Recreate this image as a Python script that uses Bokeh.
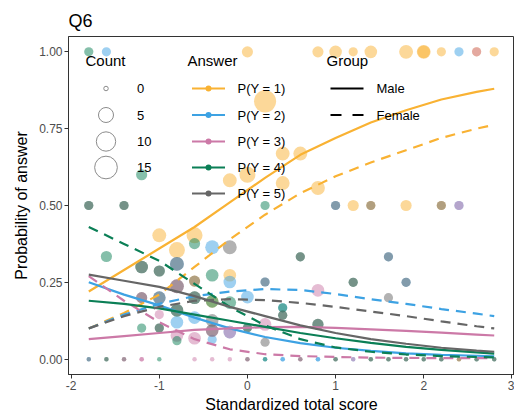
import numpy as np
from bokeh.plotting import figure
from bokeh.models import Range1d, FixedTicker, NumeralTickFormatter
from bokeh.embed import file_html
from bokeh.resources import INLINE
from bokeh.core.properties import value

FONT = "Liberation Sans"

# ---------------- data ----------------
answers = ["P(Y = 1)", "P(Y = 2)", "P(Y = 3)", "P(Y = 4)", "P(Y = 5)"]
colors = ["#F9B233", "#3DA2E3", "#CC79A7", "#0B7F56", "#666666"]
groups = ["Male", "Female"]
count_levels = [0, 5, 10, 15]
x_ticks = [-2, -1, 0, 1, 2, 3]
y_ticks = [0, 0.25, 0.5, 0.75, 1.0]

curve_x = [-1.8, -1.4, -1.0, -0.6, -0.2, 0.2, 0.6, 1.0, 1.4, 1.8, 2.2, 2.6, 2.8]
male_1 = [0.22, 0.29, 0.36, 0.43, 0.51, 0.59, 0.665, 0.72, 0.77, 0.81, 0.845, 0.87, 0.88]
female_1 = [0.10, 0.15, 0.21, 0.30, 0.39, 0.47, 0.54, 0.595, 0.64, 0.68, 0.72, 0.75, 0.763]
male_2 = [0.25, 0.21, 0.175, 0.135, 0.10, 0.072, 0.052, 0.037, 0.027, 0.019, 0.014, 0.011, 0.009]
female_2 = [0.10, 0.145, 0.18, 0.205, 0.22, 0.228, 0.225, 0.212, 0.195, 0.18, 0.163, 0.148, 0.14]
male_3 = [0.065, 0.075, 0.085, 0.095, 0.10, 0.104, 0.105, 0.102, 0.097, 0.092, 0.086, 0.08, 0.077]
female_3 = [0.27, 0.19, 0.12, 0.065, 0.032, 0.016, 0.01, 0.007, 0.005, 0.004, 0.003, 0.003, 0.003]
male_4 = [0.19, 0.18, 0.165, 0.145, 0.125, 0.105, 0.085, 0.068, 0.053, 0.04, 0.03, 0.022, 0.018]
female_4 = [0.43, 0.375, 0.32, 0.245, 0.17, 0.11, 0.065, 0.038, 0.024, 0.015, 0.01, 0.007, 0.006]
male_5 = [0.275, 0.255, 0.235, 0.205, 0.17, 0.14, 0.11, 0.085, 0.065, 0.05, 0.037, 0.028, 0.024]
female_5 = [0.10, 0.14, 0.17, 0.19, 0.195, 0.192, 0.183, 0.17, 0.155, 0.14, 0.123, 0.107, 0.10]

# observed proportions (x score, proportion, count) per answer
ans1_x = [0.0, 0.8, 1.0, 1.2, 1.4, 1.8, 2.0, 2.0, 2.2, 2.6, 2.8, 1.2, 1.4, 1.8, 2.2,
          0.2, 0.4, 0.6, -0.2, 0.0, 0.4, 0.8, -1.0, -0.6, -0.8, -0.2, -0.6, -0.4, 2.4]
ans1_y = [1, 1, 1, 1, 1, 1, 1, 1, 1, 1, 1, 0.5, 0.5, 0.5, 0.5,
          0.839, 0.669, 0.669, 0.582, 0.60, 0.573, 0.557, 0.403, 0.403, 0.355, 0.273, 0.254, 0.188, 0]
ans1_n = [2, 2, 3, 1, 3, 4, 4, 3, 1, 1, 1, 2, 1, 2, 1,
          14, 4, 4, 4, 6, 4, 4, 4, 6, 6, 3, 2, 3, 0]

ans2_x = [-1.6, 2.4, 1.0, 2.4, -0.4, -0.8, -0.2, 0.2, -1.0, 0.0, 0.4, -0.8, -0.6, -0.2, -0.4, 1.6, 1.8,
          -1.8, 0.2, 0.4, 0.4, 0.8, 0.8, 1.2]
ans2_y = [1, 1, 0.5, 0.5, 0.364, 0.31, 0.251, 0.251, 0.20, 0.202, 0.167, 0.12, 0.135, 0.088, 0.064, 0.333, 0.25,
          0, 0, 0, 0, 0, 0, 0]
ans2_n = [1, 1, 1, 1, 4, 4, 3, 1, 3, 3, 1, 3, 3, 3, 1, 1, 1,
          0, 0, 0, 0, 0, 0, 0]

ans3_x = [2.6, 2.4, -0.8, -1.2, -1.0, 0.2, -0.4, -0.2, -0.8, -0.6, 0.8,
          -1.4, -1.2, -1.2, -0.6, -0.4, -0.2, 0.0, 0.6, 1.2]
ans3_y = [1, 0.5, 0.237, 0.20, 0.145, 0.113, 0.093, 0.088, 0.077, 0.068, 0.224,
          0, 0, 0, 0, 0, 0, 0, 0, 0]
ans3_n = [1, 1, 4, 2, 1, 3, 3, 3, 3, 3, 3,
          0, 0, 0, 0, 0, 0, 0, 0, 0]

ans4_x = [-1.8, -1.8, -1.4, 0.2, -1.2, -1.6, -0.6, -1.2, -1.0, -0.4, -0.6, -0.4, -0.2, 0.4, 0.4, -0.8,
          0.8, 0.0, -1.2, -1.0, -0.8, 0.6, 1.2,
          -1.6, -1.0, 0.2, 1.0, 1.4, 1.6, 1.8, 2.0, 2.2, 2.6, 2.8]
ans4_y = [1, 0.5, 0.5, 0.5, 0.60, 0.334, 0.376, 0.30, 0.287, 0.273, 0.20, 0.188, 0.184, 0.167, 0.143, 0.159,
          0.113, 0.102, 0.101, 0.101, 0.06, 0.333, 0.25,
          0, 0, 0, 0, 0, 0, 0, 0, 0, 0, 0]
ans4_n = [1, 1, 1, 1, 2, 2, 2, 3, 2, 3, 3, 3, 3, 1, 1, 3,
          2, 1, 1, 1, 1, 1, 1,
          0, 0, 0, 0, 0, 0, 0, 0, 0, 0, 0]

ans5_x = [-1.8, -1.4, 1.0, 1.4, 2.2, -0.2, -0.8, -1.2, -1.0, -0.6, 0.2, -0.8, -1.2, -1.0, -0.6, 0.4,
          -0.8, -0.4, 0.8, 0.0, -1.0, -0.4, 0.2, 0.6, 1.6, 1.2, 1.8, 1.6,
          -1.8, -1.6, -1.4, 0.0, 0.6, 1.0, 1.4, 1.6, 1.8, 2.0, 2.2, 2.4, 2.6, 2.8]
ans5_y = [0.5, 0.5, 0.5, 0.5, 0.5, 0.364, 0.31, 0.30, 0.287, 0.254, 0.251, 0.237, 0.20, 0.20, 0.20, 0.143,
          0.159, 0.126, 0.113, 0.102, 0.101, 0.093, 0.055, 0.333, 0.333, 0.25, 0.25, 0.20,
          0, 0, 0, 0, 0, 0, 0, 0, 0, 0, 0, 0, 0, 0]
ans5_n = [1, 1, 1, 1, 1, 4, 4, 3, 2, 2, 1, 4, 2, 3, 3, 1,
          3, 3, 2, 1, 1, 3, 1, 1, 1, 1, 1, 1,
          0, 0, 0, 0, 0, 0, 0, 0, 0, 0, 0, 0, 0, 0]

male_curves = [male_1, male_2, male_3, male_4, male_5]
female_curves = [female_1, female_2, female_3, female_4, female_5]
point_sets = [(ans1_x, ans1_y, ans1_n), (ans2_x, ans2_y, ans2_n), (ans3_x, ans3_y, ans3_n),
              (ans4_x, ans4_y, ans4_n), (ans5_x, ans5_y, ans5_n)]

# ---------------- layout ----------------
W, H = 514, 418
FL, FR, FT, FB = 68, 514, 36, 374          # frame edges in pixels
X0, X1 = -2.03, 3.03
Y0, Y1 = -0.05, 1.05


def size_px(n):
    return 4.5 + 4.7 * np.sqrt(np.asarray(n, dtype=float))


def dx(px):
    return X0 + (px - FL) * (X1 - X0) / (FR - FL)


def dy(py):
    return Y1 - (py - FT) * (Y1 - Y0) / (FB - FT)


p = figure(width=W, height=H, x_range=Range1d(X0, X1), y_range=Range1d(Y0, Y1),
           output_backend="svg", toolbar_location=None, title="Q6",
           min_border_left=FL, min_border_right=W - FR, min_border_top=FT, min_border_bottom=H - FB)
p.background_fill_color = "white"
p.border_fill_color = "white"
p.outline_line_color = "#333333"
p.outline_line_width = 1
p.xgrid.visible = False
p.ygrid.visible = False

p.title.text_font = FONT
p.title.text_font_size = "18px"
p.title.text_font_style = "normal"
p.title.text_color = "black"
p.title.align = "left"
p.title.standoff = 12

for ax in (p.xaxis[0], p.yaxis[0]):
    ax.axis_line_color = "#333333"
    ax.major_tick_line_color = "#333333"
    ax.major_tick_in = 0
    ax.major_tick_out = 4
    ax.minor_tick_line_color = None
    ax.major_label_text_font = FONT
    ax.major_label_text_font_size = "12px"
    ax.major_label_text_color = "#4D4D4D"
    ax.major_label_standoff = 2
    ax.axis_label_text_font = FONT
    ax.axis_label_text_font_size = "16px"
    ax.axis_label_text_font_style = "normal"
    ax.axis_label_text_color = "black"

p.xaxis.ticker = FixedTicker(ticks=x_ticks)
p.xaxis.major_label_overrides = {t: str(t) for t in x_ticks}
p.yaxis.ticker = FixedTicker(ticks=y_ticks)
p.yaxis.formatter = NumeralTickFormatter(format="0.00")
p.xaxis.axis_label = "Standardized total score"
p.yaxis.axis_label = "Probability of answer"
p.xaxis.axis_label_standoff = 3
p.yaxis.axis_label_standoff = 6

# points
for (xs, ys, ns), c in zip(point_sets, colors):
    p.scatter(xs, ys, size=size_px(ns), fill_color=c, fill_alpha=0.5, line_color=None)

# curves
for c, m, f in zip(colors, male_curves, female_curves):
    p.line(curve_x, m, line_color=c, line_width=2.2)
    p.line(curve_x, f, line_color=c, line_width=2.2, line_dash="10 7")

# ---------------- legends (drawn inside the panel) ----------------
title_y = 60
row_y = [88, 114.5, 141, 167, 193]


def txt(px, py, s, size):
    p.text(x=[dx(px)], y=[dy(py)], text=[s], text_font=value(FONT), text_font_size=size,
           text_baseline="middle", text_align="left", text_color="black")


# Count
txt(85, title_y, "Count", "15px")
for i, cnt in enumerate(count_levels):
    p.scatter([dx(105.5)], [dy(row_y[i])], size=size_px(cnt), fill_color=None,
              line_color="#8C8C8C", line_width=1)
    txt(136.5, row_y[i], str(cnt), "13px")

# Answer
txt(187, title_y, "Answer", "15px")
for i, (lab, c) in enumerate(zip(answers, colors)):
    p.line([dx(191.5), dx(224.5)], [dy(row_y[i])] * 2, line_color=c, line_width=2.2)
    p.scatter([dx(208)], [dy(row_y[i])], size=6, fill_color=c, line_color=None)
    txt(237, row_y[i], lab, "13px")

# Group
txt(326, title_y, "Group", "15px")
for i, (g, dash) in enumerate(zip(groups, ["solid", "11 11"])):
    p.line([dx(330), dx(363)], [dy(row_y[i])] * 2, line_color="black", line_width=2.2, line_dash=dash)
    txt(376, row_y[i], g, "13px")

open("out.html", "w").write(file_html(p, INLINE))
